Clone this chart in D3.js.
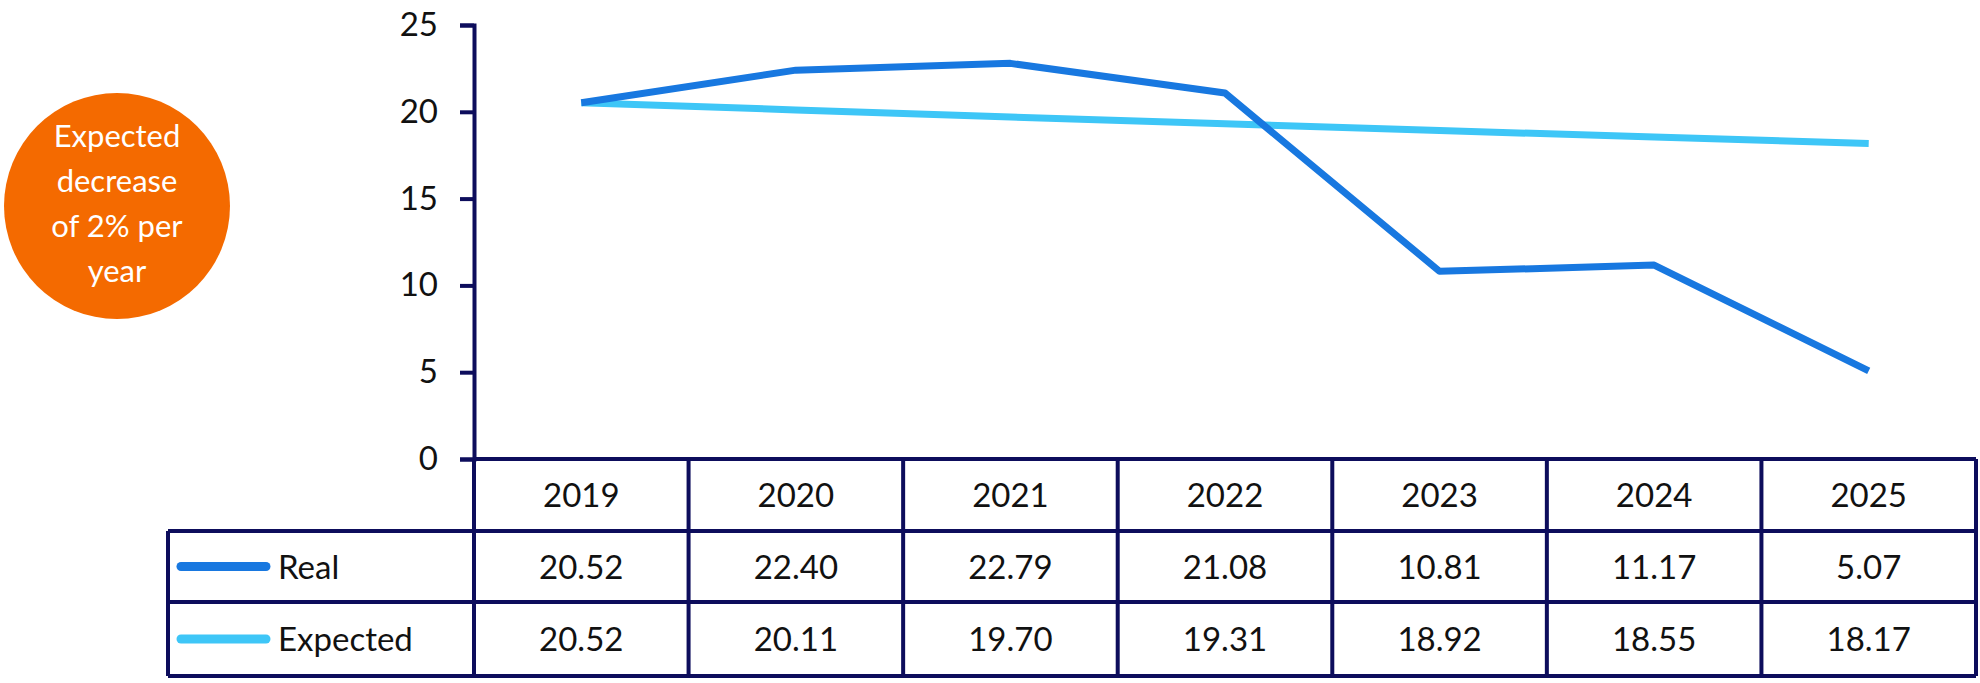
<!DOCTYPE html>
<html><head><meta charset="utf-8">
<script src="https://cdn.jsdelivr.net/npm/d3@7"></script>
<style>body{margin:0;background:#fff}svg{display:block;font-family:Lato,"Noto Sans",sans-serif}</style>
</head><body><svg id="c" width="1980" height="683"></svg>
<script>
const years = ['2019', '2020', '2021', '2022', '2023', '2024', '2025'];
const real = [20.52, 22.40, 22.79, 21.08, 10.81, 11.17, 5.07];
const expected = [20.52, 20.11, 19.70, 19.31, 18.92, 18.55, 18.17];
const yTicks = [0, 5, 10, 15, 20, 25];
const noteLines = ['Expected', 'decrease', 'of 2% per', 'year'];

const navy = '#0d0d5c', cReal = '#1878e0', cExp = '#3ec6f7';
const svg = d3.select('#c');
const plotL = 474, plotR = 1976, plotT = 25, base = 459;
const rowH = [base, 531, 602, 676];
const tableLeft = 168;

const x = d3.scaleBand().domain(years).range([plotL, plotR]);
const y = d3.scaleLinear().domain([0, 25]).range([base, plotT]);

// orange note
svg.append('circle').attr('cx', 117).attr('cy', 206).attr('r', 113).attr('fill', '#f46a00');
svg.append('text').attr('x', 117).attr('y', 147).attr('text-anchor', 'middle')
  .attr('fill', '#fff').style('font-size', '31px')
  .selectAll('tspan').data(noteLines).join('tspan')
  .attr('x', 117).attr('dy', (d, i) => i ? 45 : 0).text(d => d);

// y axis
const ya = svg.append('g').attr('transform', `translate(${plotL},0)`)
  .call(d3.axisLeft(y).tickValues(yTicks).tickSize(14).tickPadding(22));
ya.selectAll('path,line').attr('stroke', navy).attr('stroke-width', 4);
ya.selectAll('text').attr('fill', '#111').style('font-size', '33px').style('font-family', 'Lato,"Noto Sans",sans-serif');

// lines
const line = d3.line().x((d, i) => x(years[i]) + x.bandwidth() / 2).y(d => y(d));
svg.append('path').datum(expected).attr('d', line).attr('fill', 'none')
  .attr('stroke', cExp).attr('stroke-width', 7).attr('stroke-linejoin', 'round');
svg.append('path').datum(real).attr('d', line).attr('fill', 'none')
  .attr('stroke', cReal).attr('stroke-width', 7).attr('stroke-linejoin', 'round');

// table grid
const g = svg.append('g').attr('stroke', navy).attr('stroke-width', 4);
g.append('line').attr('x1', plotL).attr('x2', plotR).attr('y1', base).attr('y2', base);
[1, 2, 3].forEach(i => g.append('line').attr('x1', tableLeft).attr('x2', plotR).attr('y1', rowH[i]).attr('y2', rowH[i]));
years.forEach(yr => g.append('line').attr('x1', x(yr) + x.bandwidth()).attr('x2', x(yr) + x.bandwidth()).attr('y1', base).attr('y2', rowH[3]));
g.append('line').attr('x1', plotL).attr('x2', plotL).attr('y1', base).attr('y2', rowH[3]);
g.append('line').attr('x1', tableLeft).attr('x2', tableLeft).attr('y1', rowH[1]).attr('y2', rowH[3]);

const cellText = (txt, cx, row) => svg.append('text').attr('x', cx).attr('y', (rowH[row] + rowH[row + 1]) / 2 + 12)
  .attr('text-anchor', 'middle').attr('fill', '#111').style('font-size', '33px').text(txt);
years.forEach((yr, i) => {
  const cx = x(yr) + x.bandwidth() / 2;
  cellText(yr, cx, 0);
  cellText(real[i].toFixed(2), cx, 1);
  cellText(expected[i].toFixed(2), cx, 2);
});
[['Real', cReal], ['Expected', cExp]].forEach(([name, col], i) => {
  const cy = (rowH[i + 1] + rowH[i + 2]) / 2;
  svg.append('line').attr('x1', 181).attr('x2', 266).attr('y1', cy).attr('y2', cy)
    .attr('stroke', col).attr('stroke-width', 9).attr('stroke-linecap', 'round');
  svg.append('text').attr('x', 278).attr('y', cy + 12).attr('fill', '#111').style('font-size', '33px').text(name);
});
</script></body></html>
